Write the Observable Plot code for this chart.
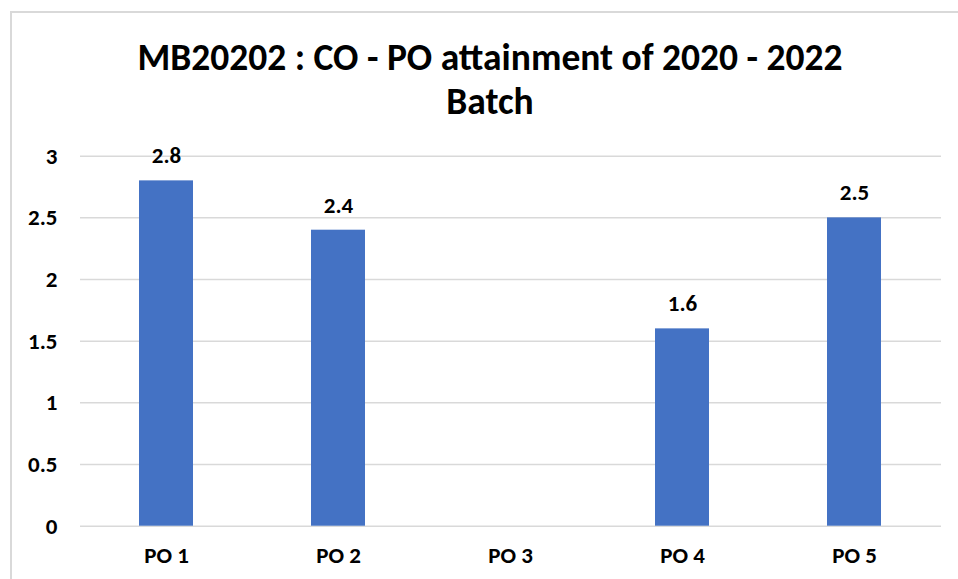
<!DOCTYPE html>
<html>
<head>
<meta charset="utf-8">
<script src="https://cdn.jsdelivr.net/npm/d3@7"></script>
<script src="https://cdn.jsdelivr.net/npm/@observablehq/plot@0.6"></script>
<style>
  html, body { margin: 0; padding: 0; background: #fff; }
  #wrap { position: relative; width: 958px; height: 579px; overflow: hidden; font-family: Carlito, Lato, "Open Sans", sans-serif; }
  #frame { position: absolute; left: 10px; top: 11px; width: 1200px; height: 1200px; border-top: 2px solid #d9d9d9; border-left: 2px solid #d9d9d9; }
  #title { position: absolute; left: 0; top: 35px; width: 980px; text-align: center; font-weight: 700; font-size: 37.5px; line-height: 44px; color: #000; }
  #chart { position: absolute; left: 0; top: 130px; }
</style>
</head>
<body>
<div id="wrap">
  <div id="frame"></div>
  <div id="title">MB20202 : CO - PO attainment of 2020 - 2022<br>Batch</div>
  <div id="chart"></div>
</div>
<script>
const categories = ["PO 1", "PO 2", "PO 3", "PO 4", "PO 5"];
const values = [2.8, 2.4, null, 1.6, 2.5];
const yTicks = [0, 0.5, 1, 1.5, 2, 2.5, 3];

const data = categories.map((c, i) => ({category: c, value: values[i]}));
const present = data.filter(d => d.value != null);

const chart = Plot.plot({
  width: 958,
  height: 449,
  marginLeft: 80,
  marginRight: 17,
  marginTop: 25.7,
  marginBottom: 53.3,
  style: {fontFamily: "Carlito, Lato, 'Open Sans', sans-serif", fontSize: "23px", fontWeight: "700", color: "#000", background: "transparent"},
  x: {domain: categories, paddingInner: 0.686, paddingOuter: 0.343, label: null},
  y: {domain: [0, 3], label: null},
  marks: [
    Plot.ruleY(yTicks, {stroke: "#d9d9d9", strokeWidth: 1.5}),
    Plot.barY(present, {x: "category", y: "value", fill: "#4472C4"}),
    Plot.text(present, {x: "category", y: "value", text: d => String(d.value), dy: -25, fill: "#000", fontSize: 23, fontWeight: 700}),
    Plot.axisY({ticks: yTicks, tickFormat: d => String(d), tickSize: 0, tickPadding: 23, label: null, fontSize: 23}),
    Plot.axisX({tickSize: 0, tickPadding: 20, label: null, fontSize: 23})
  ]
});
document.getElementById("chart").appendChild(chart);
</script>
</body>
</html>
